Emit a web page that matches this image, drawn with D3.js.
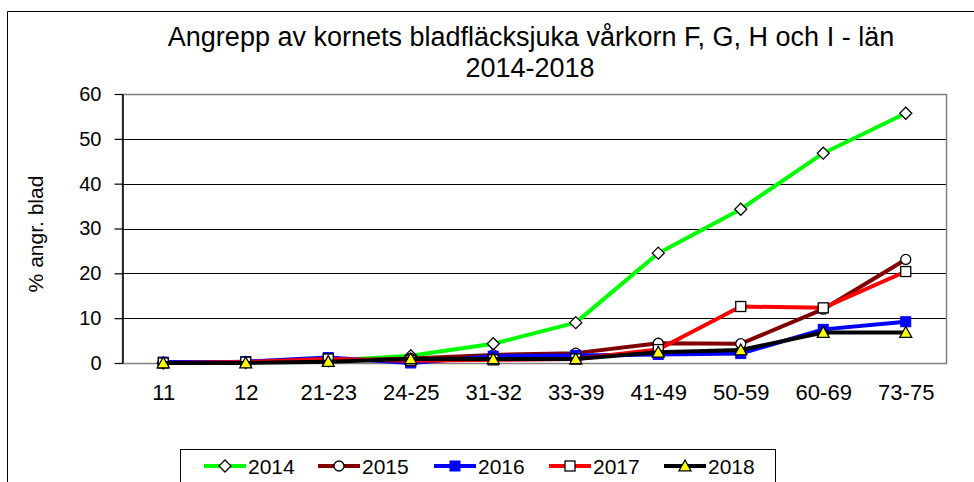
<!DOCTYPE html>
<html><head><meta charset="utf-8">
<script src="https://cdn.jsdelivr.net/npm/d3@7"></script>
<style>
html,body{margin:0;padding:0;background:#fff;}
svg{display:block;font-family:"Liberation Sans",Arial,sans-serif;}
</style></head>
<body>
<svg id="chart" width="974" height="482"></svg>
<script>
const categories = ["11","12","21-23","24-25","31-32","33-39","41-49","50-59","60-69","73-75"];
const years = ["2014","2015","2016","2017","2018"];
const values2014 = [0, 0.1, 0.5, 1.6, 4.3, 9.0, 24.5, 34.3, 46.8, 55.7];
const values2015 = [0, 0.3, 0.5, 1.0, 1.8, 2.2, 4.4, 4.3, 12.0, 23.1];
const values2016 = [0.2, 0.3, 1.2, 0, 1.5, 1.7, 1.9, 2.1, 7.5, 9.2];
const values2017 = [0, 0.2, 0.9, 0.5, 0.7, 0.9, 3.0, 12.6, 12.3, 20.4];
const values2018 = [0, 0, 0.3, 0.9, 0.9, 0.9, 2.4, 2.9, 6.8, 6.8];
const yTicks = [0, 10, 20, 30, 40, 50, 60];
const titleLines = ["Angrepp av kornets bladfläcksjuka vårkorn  F, G, H och I - län", "2014-2018"];
const yLabel = "% angr. blad";

const seriesStyle = {
  "2014": {color: "#00ff00", marker: "diamond"},
  "2015": {color: "#800000", marker: "circle"},
  "2016": {color: "#0000ff", marker: "bluesquare"},
  "2017": {color: "#ff0000", marker: "square"},
  "2018": {color: "#000000", marker: "triangle"}
};
const seriesValues = [values2014, values2015, values2016, values2017, values2018];

const svg = d3.select("#chart");
const plot = {left: 122, right: 947, top: 94, bottom: 363};

// outer border
svg.append("path").attr("d", "M7.5,482 L7.5,11.5 L974,11.5")
  .attr("fill", "none").attr("stroke", "#000").attr("stroke-width", 1);

const x = d3.scalePoint().domain(categories).range([plot.left, plot.right]).padding(0.5);
const y = d3.scaleLinear().domain([0, 60]).range([plot.bottom, plot.top]);

// gridlines
svg.append("g").selectAll("line").data(yTicks.filter(t => t > 0 && t < 60)).join("line")
  .attr("x1", plot.left).attr("x2", plot.right)
  .attr("y1", d => Math.round(y(d)) + 0.5).attr("y2", d => Math.round(y(d)) + 0.5)
  .attr("stroke", "#000").attr("stroke-width", 1);

// plot border
svg.append("rect").attr("x", plot.left + 0.5).attr("y", plot.top + 0.5)
  .attr("width", plot.right - plot.left - 1).attr("height", plot.bottom - plot.top)
  .attr("fill", "none").attr("stroke", "#808080").attr("stroke-width", 1.5);

// y axis
const yAxis = svg.append("g").attr("transform", `translate(${plot.left + 0.5},0)`)
  .call(d3.axisLeft(y).tickValues(yTicks).tickSizeInner(8).tickSizeOuter(0).tickPadding(13));
yAxis.select(".domain").attr("stroke", "#000").attr("stroke-width", 1.5);
yAxis.selectAll(".tick line").attr("stroke", "#000").attr("stroke-width", 1.2);
yAxis.selectAll("text").attr("font-size", 20).attr("font-family", "Liberation Sans, Arial, sans-serif").attr("fill", "#000");

// x axis labels
const xAxis = svg.append("g").attr("transform", `translate(0,${plot.bottom})`)
  .call(d3.axisBottom(x).tickSize(0).tickPadding(0));
xAxis.select(".domain").remove();
xAxis.selectAll("text").attr("dy", null).attr("y", 37).attr("font-size", 22)
  .attr("font-family", "Liberation Sans, Arial, sans-serif").attr("fill", "#000");

// title
const title = svg.append("g");
title.append("text").attr("x", 531).attr("y", 46).attr("text-anchor", "middle")
  .attr("font-size", 27).text(titleLines[0]);
title.append("text").attr("x", 530).attr("y", 77).attr("text-anchor", "middle")
  .attr("font-size", 27).text(titleLines[1]);

// y label
svg.append("text").attr("transform", "translate(43,234) rotate(-90)")
  .attr("text-anchor", "middle").attr("font-size", 21).text(yLabel);

function drawMarker(g, type, cx, cy) {
  if (type === "diamond") {
    const s = 6;
    g.append("path").attr("d", `M${cx},${cy - s} L${cx + s},${cy} L${cx},${cy + s} L${cx - s},${cy} Z`)
      .attr("fill", "#fff").attr("stroke", "#000").attr("stroke-width", 1.3);
  } else if (type === "circle") {
    g.append("circle").attr("cx", cx).attr("cy", cy).attr("r", 5)
      .attr("fill", "#fff").attr("stroke", "#000").attr("stroke-width", 1.3);
  } else if (type === "square") {
    g.append("rect").attr("x", cx - 5).attr("y", cy - 5).attr("width", 10).attr("height", 10)
      .attr("fill", "#fff").attr("stroke", "#000").attr("stroke-width", 1.3);
  } else if (type === "bluesquare") {
    g.append("rect").attr("x", cx - 5).attr("y", cy - 5).attr("width", 10).attr("height", 10)
      .attr("fill", "#0000ff").attr("stroke", "#0000ff").attr("stroke-width", 1);
  } else if (type === "triangle") {
    const s = 6;
    g.append("path").attr("d", `M${cx},${cy - s} L${cx + s},${cy + s * 0.8} L${cx - s},${cy + s * 0.8} Z`)
      .attr("fill", "#ffff00").attr("stroke", "#000").attr("stroke-width", 1.3);
  }
}

const line = d3.line().x((d, i) => x(categories[i])).y(d => y(d));
years.forEach((yr, k) => {
  const st = seriesStyle[yr];
  const g = svg.append("g");
  g.append("path").datum(seriesValues[k]).attr("d", line)
    .attr("fill", "none").attr("stroke", st.color).attr("stroke-width", 4)
    .attr("stroke-linejoin", "round");
  seriesValues[k].forEach((v, i) => drawMarker(g, st.marker, x(categories[i]), y(v)));
});

// legend
svg.append("rect").attr("x", 180.5).attr("y", 449.5).attr("width", 595).attr("height", 45)
  .attr("fill", "#fff").attr("stroke", "#000").attr("stroke-width", 1);
const legendX = [204, 318, 434, 549, 664];
years.forEach((yr, k) => {
  const st = seriesStyle[yr];
  const g = svg.append("g");
  const lx = legendX[k], ly = 466;
  g.append("line").attr("x1", lx).attr("x2", lx + 42).attr("y1", ly).attr("y2", ly)
    .attr("stroke", st.color).attr("stroke-width", 4);
  drawMarker(g, st.marker, lx + 21, ly);
  g.append("text").attr("x", lx + 44).attr("y", ly + 8).attr("font-size", 21).text(yr);
});
</script>
</body></html>
